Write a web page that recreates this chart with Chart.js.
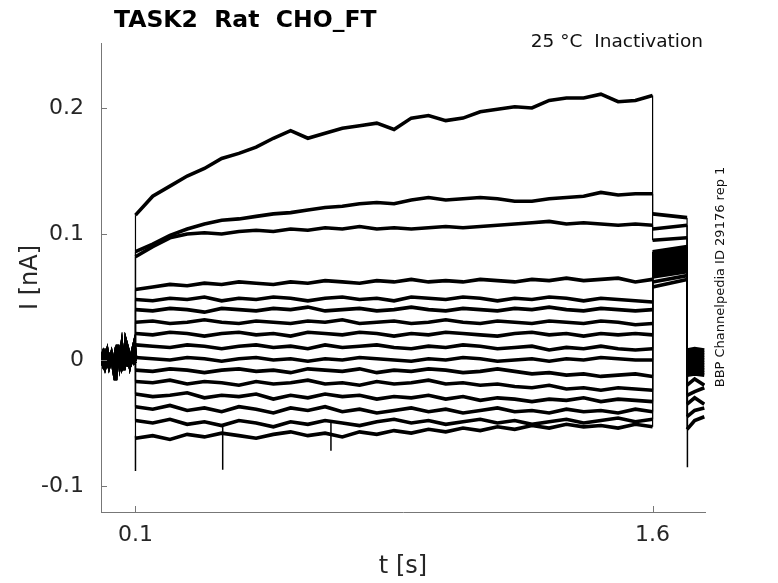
<!DOCTYPE html>
<html>
<head>
<meta charset="utf-8">
<script src="https://cdn.jsdelivr.net/npm/chart.js@4.4.1/dist/chart.umd.min.js"></script>
<style>
  html, body { margin: 0; padding: 0; background: #fff; }
  #wrap { width: 778px; height: 583px; }
</style>
</head>
<body>
<div id="wrap"><canvas id="chart" width="778" height="583"></canvas></div>
<script>
// === data ===
const xTicks = [0.1, 1.6];
const yTicks = [-0.1, 0, 0.1, 0.2];
const yTickLabels = ["-0.1", "0", "0.1", "0.2"];

// holding period before the step (three noisy baseline variants)
const preTimes = [0, 0.006, 0.012, 0.018, 0.024, 0.03, 0.036, 0.042, 0.048, 0.054, 0.06, 0.066, 0.072, 0.078, 0.084, 0.09, 0.096, 0.1];
const baseA = [0.002, -0.003, 0.004, -0.002, 0.003, 0.000, -0.004, 0.005, -0.001, 0.003, -0.003, 0.002, 0.004, -0.002, 0.001, 0.003, -0.001, 0.001];
const baseB = [-0.003, 0.002, -0.005, 0.001, -0.002, 0.004, -0.006, 0.000, -0.003, 0.002, -0.005, 0.001, -0.002, 0.003, -0.004, 0.000, -0.002, -0.001];
const baseC = [0.000, 0.005, -0.001, 0.006, -0.004, 0.002, 0.001, -0.016, 0.012, -0.002, 0.010, -0.008, 0.014, 0.008, -0.003, 0.005, 0.012, 0.002];

// prepulse 0.1 .. 1.6 s, one sample every 0.05 s
const stepTimes = [0.1, 0.15, 0.2, 0.25, 0.3, 0.35, 0.4, 0.45, 0.5, 0.55, 0.6, 0.65, 0.7, 0.75, 0.8, 0.85,
  0.9, 0.95, 1.0, 1.05, 1.1, 1.15, 1.2, 1.25, 1.3, 1.35, 1.4, 1.45, 1.5, 1.55, 1.6];
const trace1 = [0.115, 0.130, 0.138, 0.146, 0.152, 0.160, 0.164, 0.169, 0.176, 0.182, 0.176, 0.180, 0.184, 0.186, 0.188, 0.183,
  0.192, 0.194, 0.190, 0.192, 0.197, 0.199, 0.201, 0.200, 0.206, 0.208, 0.208, 0.211, 0.205, 0.206, 0.210];
const trace2 = [0.086, 0.092, 0.099, 0.104, 0.108, 0.111, 0.112, 0.114, 0.116, 0.117, 0.119, 0.121, 0.122, 0.124, 0.125, 0.124,
  0.127, 0.129, 0.127, 0.128, 0.129, 0.128, 0.126, 0.126, 0.128, 0.129, 0.130, 0.133, 0.131, 0.132, 0.132];
const trace3 = [0.082, 0.090, 0.097, 0.100, 0.101, 0.100, 0.102, 0.103, 0.102, 0.104, 0.103, 0.105, 0.104, 0.106, 0.104, 0.105,
  0.104, 0.105, 0.106, 0.105, 0.106, 0.107, 0.108, 0.109, 0.110, 0.108, 0.109, 0.108, 0.107, 0.108, 0.107];
const trace4 = [0.056, 0.058, 0.060, 0.059, 0.061, 0.060, 0.062, 0.061, 0.060, 0.062, 0.061, 0.063, 0.062, 0.061, 0.063, 0.062,
  0.064, 0.062, 0.063, 0.062, 0.064, 0.063, 0.062, 0.064, 0.063, 0.065, 0.063, 0.064, 0.065, 0.062, 0.064];
const trace5 = [0.048, 0.047, 0.049, 0.048, 0.050, 0.047, 0.049, 0.048, 0.050, 0.049, 0.047, 0.049, 0.050, 0.048, 0.049, 0.047,
  0.050, 0.049, 0.048, 0.050, 0.049, 0.047, 0.049, 0.048, 0.050, 0.049, 0.047, 0.049, 0.048, 0.047, 0.046];
const trace6 = [0.040, 0.039, 0.041, 0.040, 0.038, 0.041, 0.040, 0.039, 0.041, 0.040, 0.042, 0.039, 0.040, 0.041, 0.039, 0.040,
  0.042, 0.040, 0.039, 0.041, 0.040, 0.039, 0.041, 0.040, 0.042, 0.040, 0.039, 0.041, 0.040, 0.039, 0.040];
const trace7 = [0.030, 0.031, 0.029, 0.030, 0.032, 0.030, 0.029, 0.031, 0.030, 0.029, 0.031, 0.030, 0.032, 0.029, 0.030, 0.031,
  0.029, 0.030, 0.032, 0.030, 0.029, 0.031, 0.030, 0.029, 0.031, 0.030, 0.029, 0.031, 0.030, 0.028, 0.029];
const trace8 = [0.021, 0.020, 0.022, 0.021, 0.019, 0.021, 0.022, 0.020, 0.021, 0.019, 0.022, 0.021, 0.020, 0.022, 0.021, 0.019,
  0.021, 0.020, 0.022, 0.021, 0.020, 0.019, 0.021, 0.022, 0.020, 0.021, 0.019, 0.021, 0.020, 0.021, 0.020];
const trace9 = [0.012, 0.011, 0.010, 0.012, 0.011, 0.009, 0.011, 0.012, 0.010, 0.011, 0.009, 0.012, 0.010, 0.011, 0.012, 0.010,
  0.009, 0.011, 0.010, 0.012, 0.011, 0.009, 0.010, 0.011, 0.008, 0.010, 0.009, 0.011, 0.009, 0.008, 0.009];
const trace10 = [0.002, 0.001, 0.000, 0.002, 0.001, -0.001, 0.001, 0.002, 0.000, 0.001, -0.001, 0.001, 0.000, 0.002, 0.001, 0.000,
  -0.001, 0.001, 0.000, 0.002, 0.001, -0.001, 0.000, 0.001, -0.001, 0.001, 0.000, 0.002, 0.001, 0.000, 0.000];
const trace11 = [-0.008, -0.009, -0.007, -0.008, -0.010, -0.008, -0.007, -0.009, -0.008, -0.010, -0.007, -0.008, -0.009, -0.007, -0.010, -0.008,
  -0.009, -0.007, -0.008, -0.010, -0.009, -0.007, -0.009, -0.011, -0.010, -0.012, -0.011, -0.013, -0.012, -0.011, -0.013];
const trace12 = [-0.017, -0.018, -0.016, -0.019, -0.017, -0.018, -0.020, -0.017, -0.019, -0.018, -0.016, -0.019, -0.018, -0.020, -0.017, -0.019,
  -0.018, -0.016, -0.019, -0.018, -0.020, -0.019, -0.021, -0.022, -0.020, -0.023, -0.022, -0.024, -0.022, -0.023, -0.024];
const trace13 = [-0.027, -0.029, -0.028, -0.026, -0.030, -0.028, -0.029, -0.027, -0.031, -0.028, -0.030, -0.027, -0.029, -0.028, -0.031, -0.029,
  -0.030, -0.028, -0.031, -0.029, -0.032, -0.030, -0.031, -0.033, -0.031, -0.032, -0.030, -0.033, -0.031, -0.032, -0.033];
const trace14 = [-0.037, -0.039, -0.036, -0.040, -0.038, -0.041, -0.037, -0.039, -0.042, -0.038, -0.040, -0.037, -0.041, -0.039, -0.042, -0.040,
  -0.038, -0.041, -0.039, -0.042, -0.040, -0.038, -0.041, -0.040, -0.042, -0.039, -0.041, -0.040, -0.042, -0.039, -0.041];
const trace15 = [-0.048, -0.050, -0.047, -0.051, -0.049, -0.052, -0.048, -0.050, -0.053, -0.049, -0.051, -0.048, -0.050, -0.052, -0.049, -0.047,
  -0.050, -0.048, -0.051, -0.049, -0.047, -0.050, -0.048, -0.051, -0.049, -0.047, -0.050, -0.048, -0.046, -0.049, -0.047];
const trace16 = [-0.062, -0.060, -0.063, -0.059, -0.061, -0.058, -0.060, -0.062, -0.059, -0.057, -0.060, -0.058, -0.061, -0.057, -0.059, -0.056,
  -0.058, -0.055, -0.057, -0.054, -0.056, -0.053, -0.055, -0.052, -0.054, -0.051, -0.053, -0.052, -0.054, -0.051, -0.053];

// test pulse 1.6 .. 1.7 s, per trace
const testTimes = [1.6, 1.7];
const testStart = [0.116, 0.104, 0.095, 0.086, 0.084, 0.082, 0.080, 0.078, 0.076, 0.074, 0.072, 0.070, 0.068, 0.066, 0.062, 0.058];
const testEnd = [0.113, 0.107, 0.097, 0.090, 0.088, 0.086, 0.084, 0.082, 0.080, 0.078, 0.076, 0.074, 0.072, 0.070, 0.067, 0.064];

// tail after 1.7 s, per trace
const tailTimes = [1.7, 1.722, 1.75];
const tailA = [0.008, 0.006, 0.004, 0.002, 0.000, -0.002, -0.004, -0.006, -0.008, -0.010, -0.012, -0.020, -0.028, -0.035, -0.045, -0.055];
const tailB = [0.009, 0.007, 0.005, 0.003, 0.001, -0.001, -0.003, -0.005, -0.007, -0.009, -0.011, -0.015, -0.025, -0.030, -0.040, -0.048];
const tailC = [0.008, 0.006, 0.004, 0.002, 0.000, -0.002, -0.004, -0.006, -0.008, -0.010, -0.012, -0.020, -0.022, -0.035, -0.038, -0.045];

// short downward artifacts
const spikeTimes = [0.1, 0.353, 0.667, 1.701];
const spikeTop = [-0.060, -0.052, -0.050, -0.010];
const spikeBottom = [-0.088, -0.087, -0.072, -0.085];

const traces = [trace1, trace2, trace3, trace4, trace5, trace6, trace7, trace8,
  trace9, trace10, trace11, trace12, trace13, trace14, trace15, trace16];
const baselines = [baseA, baseB, baseC];

// === build datasets ===
const datasets = traces.map((vals, k) => {
  const base = baselines[k % 3];
  const pts = [];
  preTimes.forEach((t, i) => pts.push({ x: t, y: base[i] }));
  stepTimes.forEach((t, i) => pts.push({ x: t, y: vals[i] }));
  pts.push({ x: testTimes[0], y: testStart[k] });
  pts.push({ x: testTimes[1], y: testEnd[k] });
  pts.push({ x: tailTimes[0], y: tailA[k] });
  pts.push({ x: tailTimes[1], y: tailB[k] });
  pts.push({ x: tailTimes[2], y: tailC[k] });
  return {
    data: pts,
    borderColor: "#000",
    borderWidth: 3.6,
    borderJoinStyle: "miter",
    pointRadius: 0,
    tension: 0,
    fill: false,
    // the voltage-step jumps are thin vertical strokes
    segment: {
      borderWidth: ctx => (ctx.p0.parsed.x === ctx.p1.parsed.x ? 1.2 : 3.6)
    }
  };
});

const spikePts = [];
spikeTimes.forEach((t, i) => {
  spikePts.push({ x: t, y: spikeTop[i] });
  spikePts.push({ x: t, y: spikeBottom[i] });
  spikePts.push({ x: t, y: null });
});
datasets.push({
  data: spikePts,
  borderColor: "#000",
  borderWidth: 1.5,
  pointRadius: 0,
  spanGaps: false
});

// inward tick marks and the extra texts
const decorPlugin = {
  id: "decor",
  afterDraw(chart) {
    const { ctx, chartArea, scales } = chart;
    ctx.save();
    ctx.strokeStyle = "#777";
    ctx.lineWidth = 1;
    xTicks.forEach(v => {
      const px = Math.round(scales.x.getPixelForValue(v)) + 0.5;
      ctx.beginPath();
      ctx.moveTo(px, chartArea.bottom);
      ctx.lineTo(px, chartArea.bottom - 6);
      ctx.stroke();
    });
    yTicks.forEach(v => {
      const py = Math.round(scales.y.getPixelForValue(v)) + 0.5;
      ctx.beginPath();
      ctx.moveTo(chartArea.left, py);
      ctx.lineTo(chartArea.left + 6, py);
      ctx.stroke();
    });

    ctx.fillStyle = "#000";
    ctx.font = "bold 23.5px 'DejaVu Sans'";
    ctx.textAlign = "left";
    ctx.textBaseline = "alphabetic";
    ctx.fillText("TASK2  Rat  CHO_FT", 114, 27);

    ctx.fillStyle = "#111";
    ctx.font = "18.5px 'DejaVu Sans'";
    ctx.textAlign = "right";
    ctx.fillText("25 °C  Inactivation", 703, 47);

    ctx.translate(724, 277);
    ctx.rotate(-Math.PI / 2);
    ctx.font = "13px 'DejaVu Sans'";
    ctx.textAlign = "center";
    ctx.fillText("BBP Channelpedia ID 29176 rep 1", 0, 0);
    ctx.restore();
  }
};

new Chart(document.getElementById("chart"), {
  type: "line",
  data: { datasets },
  options: {
    responsive: false,
    animation: false,
    events: [],
    layout: { padding: { left: 0, top: 43, right: 73, bottom: 0 } },
    plugins: { legend: { display: false }, tooltip: { enabled: false }, title: { display: false } },
    scales: {
      x: {
        type: "linear",
        min: 0,
        max: 1.752,
        afterBuildTicks: s => { s.ticks = xTicks.map(v => ({ value: v })); },
        afterFit: s => { s.height = 71; },
        grid: { display: false, drawTicks: false },
        border: { display: true, color: "#777", width: 1 },
        ticks: {
          color: "#262626",
          font: { family: "DejaVu Sans", size: 22 },
          padding: 10,
          maxRotation: 0,
          autoSkip: false,
          callback: v => String(v)
        },
        title: {
          display: true,
          text: "t [s]",
          color: "#262626",
          font: { family: "DejaVu Sans", size: 24 },
          padding: { top: 0, bottom: 2 }
        }
      },
      y: {
        type: "linear",
        min: -0.1206,
        max: 0.2516,
        afterBuildTicks: s => { s.ticks = yTicks.map(v => ({ value: v })); },
        afterFit: s => { s.width = 101; },
        grid: { display: false, drawTicks: false },
        border: { display: true, color: "#777", width: 1 },
        ticks: {
          color: "#262626",
          font: { family: "DejaVu Sans", size: 22 },
          padding: 17,
          autoSkip: false,
          callback: v => yTickLabels[yTicks.indexOf(v)]
        },
        title: {
          display: true,
          text: "I [nA]",
          color: "#262626",
          font: { family: "DejaVu Sans", size: 24 },
          padding: { top: 16, bottom: 0 }
        }
      }
    }
  },
  plugins: [decorPlugin]
});
</script>
</body>
</html>
